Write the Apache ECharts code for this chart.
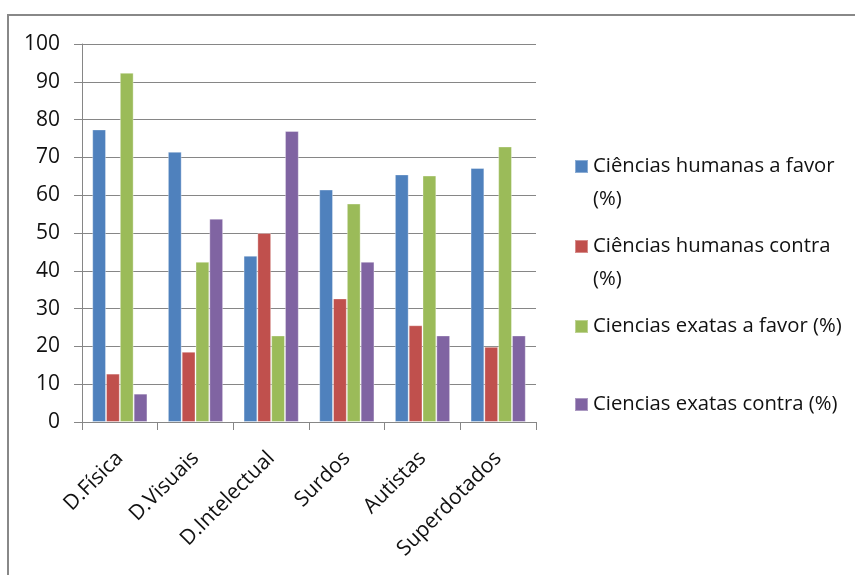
<!DOCTYPE html>
<html>
<head>
<meta charset="utf-8">
<script src="https://cdn.jsdelivr.net/npm/echarts@6/dist/echarts.min.js"></script>
<style>
html,body{margin:0;padding:0;background:#fff;}
#chart{width:855px;height:575px;}
</style>
</head>
<body>
<div id="chart"></div>
<script>
const categories = ['D.Física', 'D.Visuais', 'D.Intelectual', 'Surdos', 'Autistas', 'Superdotados'];
const seriesNames = ['Ciências humanas a favor (%)', 'Ciências humanas contra (%)', 'Ciencias exatas a favor (%)', 'Ciencias exatas contra (%)'];
const humanasFavor = [77.4, 71.5, 44.0, 61.5, 65.5, 67.2];
const humanasContra = [12.8, 18.6, 50.0, 32.7, 25.6, 19.9];
const exatasFavor = [92.4, 42.4, 22.9, 57.8, 65.2, 72.9];
const exatasContra = [7.5, 53.8, 77.0, 42.4, 22.9, 22.9];
const yTicks = [0, 10, 20, 30, 40, 50, 60, 70, 80, 90, 100];
const legendLabels = ['\nCiências humanas a favor\n(%)', '\nCiências humanas contra\n(%)', 'Ciencias exatas a favor (%)', 'Ciencias exatas contra (%)'];

const colors = ['#4F81BD', '#C0504D', '#9BBB59', '#8064A2'];
const values = [humanasFavor, humanasContra, exatasFavor, exatasContra];
const FONT = 'Open Sans';
const legendTops = [117, 197, 310, 388];

const chart = echarts.init(document.getElementById('chart'), null, {renderer: 'canvas'});
chart.setOption({
  animation: false,
  backgroundColor: '#fff',
  graphic: [{
    type: 'rect', shape: {x: 8, y: 15, width: 900, height: 600},
    style: {fill: 'none', stroke: '#888', lineWidth: 2}, silent: true, z: -1
  }],
  grid: {left: 82, right: 319, top: 44, bottom: 153, containLabel: false},
  legend: seriesNames.map((n, i) => ({
    data: [n],
    left: 574,
    top: legendTops[i],
    orient: 'vertical',
    padding: 0,
    itemWidth: 13,
    itemHeight: 13,
    itemGap: 0,
    icon: 'rect',
    formatter: () => legendLabels[i],
    textStyle: {fontFamily: FONT, fontSize: 20.3, color: '#111', lineHeight: 33, padding: [0, 0, 0, 0]}
  })),
  xAxis: {
    type: 'category',
    data: categories,
    axisLine: {lineStyle: {color: '#868686', width: 1}},
    axisTick: {show: true, alignWithLabel: false, length: 8, lineStyle: {color: '#868686'}},
    axisLabel: {rotate: 45, margin: 33, fontFamily: FONT, fontSize: 21, color: '#111', interval: 0}
  },
  yAxis: {
    type: 'value',
    min: yTicks[0],
    max: yTicks[yTicks.length - 1],
    interval: 10,
    axisLine: {show: true, lineStyle: {color: '#868686', width: 1}},
    axisTick: {show: true, length: 8, lineStyle: {color: '#868686'}},
    splitLine: {show: true, lineStyle: {color: '#868686', width: 1}},
    axisLabel: {margin: 22, fontFamily: FONT, fontSize: 21, color: '#111'}
  },
  series: seriesNames.map((n, i) => ({
    name: n,
    type: 'bar',
    data: values[i],
    barGap: '0%',
    barCategoryGap: '27%',
    itemStyle: {color: colors[i], borderColor: 'rgba(255,255,255,0.35)', borderWidth: 1},
    emphasis: {disabled: true}
  }))
});
</script>
</body>
</html>
